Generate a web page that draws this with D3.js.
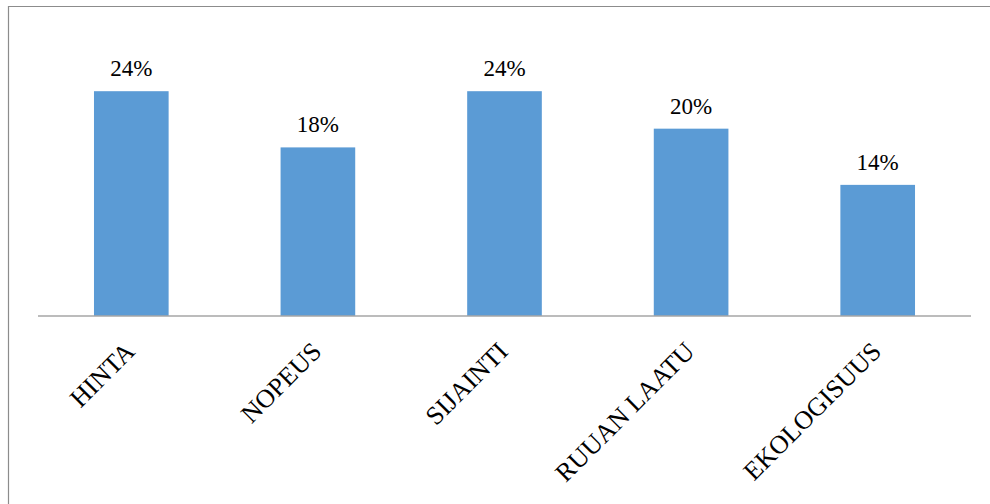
<!DOCTYPE html>
<html>
<head>
<meta charset="utf-8">
<script src="https://cdn.jsdelivr.net/npm/d3@7"></script>
<style>
  html, body { margin: 0; padding: 0; background: #fff; }
  svg { display: block; }
</style>
</head>
<body>
<svg id="chart" width="990" height="504"></svg>
<script>
// Survey shares per factor
const categories = ["HINTA", "NOPEUS", "SIJAINTI", "RUUAN LAATU", "EKOLOGISUUS"];
const values = [24, 18, 24, 20, 14];
const valueLabels = ["24%", "18%", "24%", "20%", "14%"];

const svg = d3.select("#chart");
const W = 990, H = 504;
const font = "'Liberation Serif', 'Times New Roman', serif";

// chart-area frame: top and left edges run off the canvas
svg.append("path")
  .attr("d", `M8.5,${H}V6.5H${W}`)
  .attr("fill", "none").attr("stroke", "#8c8c8c").attr("stroke-width", 1.2);

const plot = { left: 38, right: 971, top: 35, bottom: 316 };

const x = d3.scaleBand()
  .domain(categories)
  .range([plot.left, plot.right])
  .paddingInner(0.6)
  .paddingOuter(0.3);

const y = d3.scaleLinear()
  .domain([0, 30])
  .range([plot.bottom, plot.top]);

// bars
svg.append("g").selectAll("rect")
  .data(categories)
  .join("rect")
  .attr("x", d => x(d))
  .attr("y", (d, i) => y(values[i]))
  .attr("width", x.bandwidth())
  .attr("height", (d, i) => y(0) - y(values[i]))
  .attr("fill", "#5b9bd5");

// value labels
svg.append("g").selectAll("text")
  .data(categories)
  .join("text")
  .attr("x", d => x(d) + x.bandwidth() / 2)
  .attr("y", (d, i) => y(values[i]) - 15)
  .attr("text-anchor", "middle")
  .attr("font-family", font)
  .attr("font-size", 23)
  .attr("fill", "#000")
  .text((d, i) => valueLabels[i]);

// category axis
const axis = d3.axisBottom(x).tickSize(0).tickPadding(0);
const gx = svg.append("g")
  .attr("transform", `translate(0,${plot.bottom})`)
  .call(axis);
gx.select(".domain").attr("stroke", "#a6a6a6").attr("stroke-width", 1.5)
  .attr("d", `M${plot.left},0H${plot.right}`);
gx.selectAll(".tick text")
  .attr("font-family", font)
  .attr("font-size", 26)
  .attr("fill", "#000")
  .attr("text-anchor", "end")
  .attr("dy", 0)
  .attr("transform", "translate(5,37) rotate(-45)");
</script>
</body>
</html>
